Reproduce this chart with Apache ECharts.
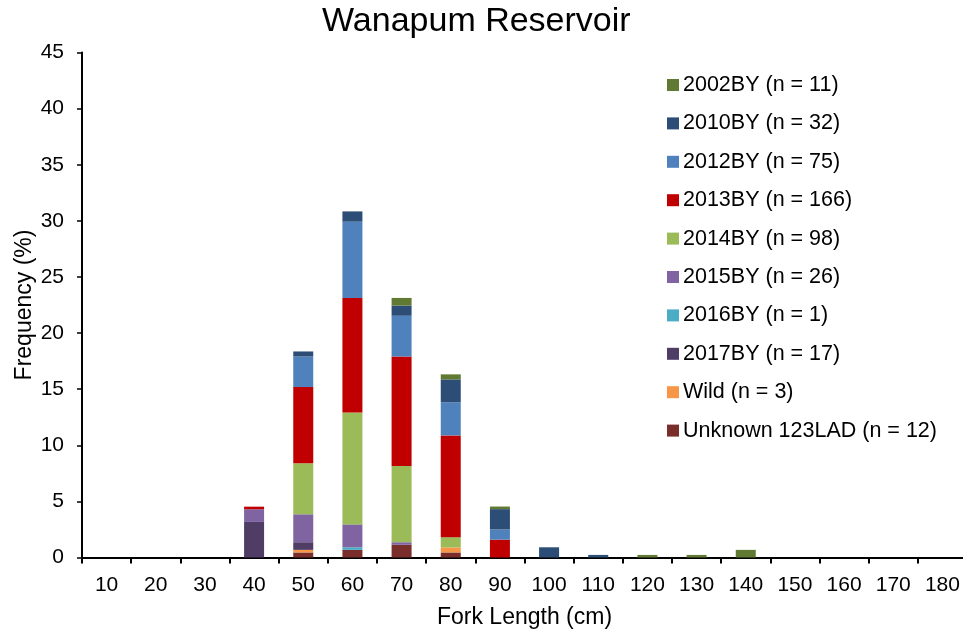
<!DOCTYPE html>
<html>
<head>
<meta charset="utf-8">
<script src="https://cdn.jsdelivr.net/npm/echarts@6/dist/echarts.min.js"></script>
<style>html,body{margin:0;padding:0;background:#fff;}#c{width:963px;height:632px;}</style>
</head>
<body>
<div id="c"></div>
<script>
var categories = ['10','20','30','40','50','60','70','80','90','100','110','120','130','140','150','160','170','180'];
var yTicks = [0,5,10,15,20,25,30,35,40,45];
var unknown123LAD = [0,0,0,0,0.45,0.68,1.13,0.45,0,0,0,0,0,0,0,0,0,0];
var wild          = [0,0,0,0,0.23,0,0,0.45,0,0,0,0,0,0,0,0,0,0];
var by2017        = [0,0,0,3.17,0.68,0,0,0,0,0,0,0,0,0,0,0,0,0];
var by2016        = [0,0,0,0,0,0.23,0,0,0,0,0,0,0,0,0,0,0,0];
var by2015        = [0,0,0,1.13,2.49,2.04,0.23,0,0,0,0,0,0,0,0,0,0,0];
var by2014        = [0,0,0,0,4.54,9.98,6.80,0.91,0,0,0,0,0,0,0,0,0,0];
var by2013        = [0,0,0,0.23,6.80,10.20,9.75,9.07,1.59,0,0,0,0,0,0,0,0,0];
var by2012        = [0,0,0,0,2.72,6.80,3.63,2.95,0.91,0,0,0,0,0,0,0,0,0];
var by2010        = [0,0,0,0,0.45,0.91,0.91,2.04,1.81,0.91,0.23,0,0,0,0,0,0,0];
var by2002        = [0,0,0,0,0,0,0.68,0.45,0.23,0,0,0.23,0.23,0.68,0,0,0,0];

var seriesNames = ['Unknown 123LAD (n = 12)','Wild (n = 3)','2017BY (n = 17)','2016BY (n = 1)','2015BY (n = 26)','2014BY (n = 98)','2013BY (n = 166)','2012BY (n = 75)','2010BY (n = 32)','2002BY (n = 11)'];
var seriesData = [unknown123LAD, wild, by2017, by2016, by2015, by2014, by2013, by2012, by2010, by2002];
var seriesColors = ['#7A2E2B','#F79646','#4F3D66','#4BACC6','#8064A2','#9BBB59','#C00000','#4F81BD','#2C4D75','#617A33'];

var FONT = "'Liberation Sans', Arial, sans-serif";
var chart = echarts.init(document.getElementById('c'), null, {renderer: 'canvas'});
var series = seriesNames.map(function(n, i){
  return {
    name: n, type: 'bar', stack: 'total', barWidth: 20,
    data: seriesData[i],
    itemStyle: {color: seriesColors[i]},
    emphasis: {disabled: true}
  };
});
chart.setOption({
  animation: false,
  backgroundColor: '#fff',
  title: {
    text: 'Wanapum Reservoir', left: 322, top: 5, padding: 0,
    textStyle: {fontFamily: FONT, fontSize: 34, fontWeight: 'normal', color: '#000'}
  },
  legend: {
    orient: 'vertical', left: 667, top: 73, padding: 0,
    itemWidth: 12, itemHeight: 12, itemGap: 14.4,
    icon: 'rect',
    data: seriesNames.slice().reverse(),
    textStyle: {fontFamily: FONT, fontSize: 21.5, color: '#000', lineHeight: 24, padding: [0,0,0,-1]}
  },
  grid: {left: 82, top: 52.5, width: 885, height: 505, containLabel: false, outerBoundsMode: 'none'},
  xAxis: {
    type: 'category', data: categories,
    name: 'Fork Length (cm)', nameLocation: 'middle', nameGap: 49,
    nameTextStyle: {fontFamily: FONT, fontSize: 23, color: '#000'},
    axisLine: {lineStyle: {color: '#000', width: 2}},
    axisTick: {show: true, length: 6, lineStyle: {color: '#000', width: 2}},
    axisLabel: {fontFamily: FONT, fontSize: 21, color: '#000', margin: 17, interval: 0},
    splitLine: {show: false}
  },
  yAxis: {
    type: 'value', min: yTicks[0], max: yTicks[yTicks.length-1], interval: 5,
    name: 'Frequency (%)', nameLocation: 'middle', nameGap: 46, nameMoveOverlap: false,
    nameTextStyle: {fontFamily: FONT, fontSize: 23, color: '#000'},
    axisLine: {show: true, lineStyle: {color: '#000', width: 2}},
    axisTick: {show: true, length: 5, lineStyle: {color: '#000', width: 1.5}},
    axisLabel: {fontFamily: FONT, fontSize: 21, color: '#000', margin: 18},
    splitLine: {show: false}
  },
  series: series
});
</script>
</body>
</html>
